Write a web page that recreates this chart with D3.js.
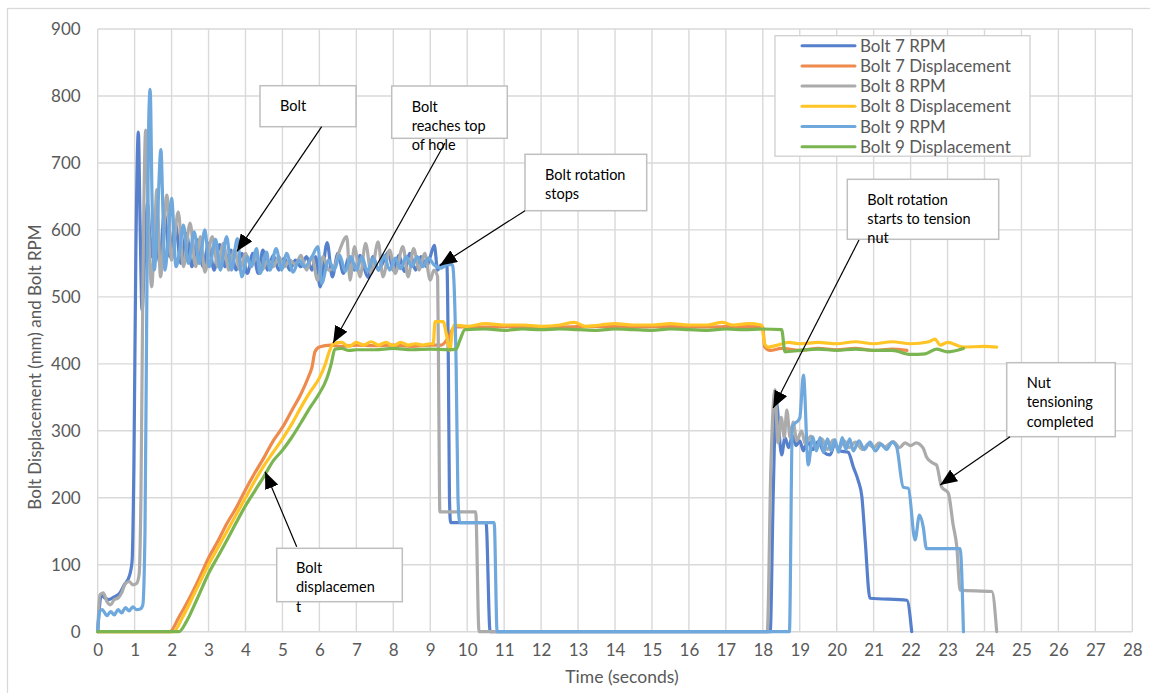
<!DOCTYPE html>
<html>
<head>
<meta charset="utf-8">
<script src="https://cdn.jsdelivr.net/npm/d3@7"></script>
<style>
  body { margin: 0; background: #fff; }
  svg { display: block; font-family: Lato, "Open Sans", sans-serif; }
</style>
</head>
<body>
<svg id="chart" width="1150" height="693"></svg>
<script>
// --- data: [time (s), value] ---
var seriesNames = ["Bolt 7 RPM", "Bolt 7 Displacement", "Bolt 8 RPM",
                   "Bolt 8 Displacement", "Bolt 9 RPM", "Bolt 9 Displacement"];

var bolt7Rpm = [[0,0],[0.1,55],[0.2,50],[0.3,48],[0.45,52],[0.6,58],[0.72,70],[0.85,82],[0.93,105],[0.98,250],[1.03,550],[1.1,746],[1.15,600],[1.2,480],[1.27,560],[1.35,640],[1.45,560],[1.55,610],[1.68,550],[1.8,625],[1.95,560],[2.1,610],[2.25,550],[2.4,595],[2.55,545],[2.7,585],[2.85,545],[3.0,580],[3.15,540],[3.3,578],[3.45,545],[3.6,570],[3.75,540],[3.9,565],[4.05,535],[4.2,565],[4.35,535],[4.47,570],[4.6,540],[4.75,562],[4.9,540],[5.05,558],[5.2,540],[5.35,555],[5.5,545],[5.65,560],[5.8,540],[5.9,560],[6.02,515],[6.21,581],[6.35,530],[6.5,565],[6.65,535],[6.8,560],[6.95,540],[7.1,562],[7.2,545],[7.32,529],[7.45,560],[7.6,540],[7.75,555],[7.86,567],[8.0,540],[8.15,562],[8.3,538],[8.45,565],[8.6,540],[8.75,560],[8.9,545],[9.0,560],[9.11,577],[9.2,540],[9.3,548],[9.45,548],[9.49,400],[9.52,200],[9.55,163],[10.51,163],[10.62,0],[18.2,0],[18.28,200],[18.36,346],[18.51,264],[18.6,290],[18.7,275],[18.8,292],[18.9,278],[19.0,285],[19.1,270],[19.2,285],[19.35,272],[19.5,284],[19.65,268],[19.82,264],[19.95,280],[20.1,270],[20.31,268],[20.45,246],[20.58,226],[20.68,202],[20.77,137],[20.9,50],[21.9,47],[22.03,0]];

var bolt7Disp = [[0,0],[1.95,0],[2.2,22],[2.5,52],[2.75,80],[3.0,110],[3.25,135],[3.5,162],[3.75,185],[4.0,212],[4.25,237],[4.5,260],[4.75,285],[5.0,305],[5.25,330],[5.5,355],[5.7,380],[5.8,395],[5.88,418],[6.0,425],[6.3,428],[6.6,426],[7.0,428],[7.5,427],[8.0,428],[8.5,426],[9.0,428],[9.3,428],[9.5,440],[9.65,455],[10.5,455],[11.5,456],[12.5,455],[13.5,456],[14.5,455],[15.5,456],[16.5,455],[17.5,456],[18.0,455],[18.05,425],[18.2,420],[18.5,423],[19.0,420],[19.5,423],[20.0,421],[20.5,423],[21.0,420],[21.5,422],[21.9,420]];

var bolt8Rpm = [[0,0],[0.06,55],[0.15,58],[0.25,45],[0.35,40],[0.45,48],[0.55,50],[0.65,58],[0.75,72],[0.85,75],[0.95,70],[1.05,72],[1.12,85],[1.17,200],[1.22,500],[1.3,749],[1.38,600],[1.46,515],[1.53,580],[1.6,660],[1.7,530],[1.87,652],[2.0,555],[2.18,627],[2.32,545],[2.5,610],[2.65,545],[2.78,590],[2.9,537],[3.1,590],[3.25,545],[3.4,580],[3.55,540],[3.7,570],[3.85,540],[4.0,565],[4.15,545],[4.3,560],[4.45,540],[4.6,555],[4.75,545],[4.9,560],[5.05,545],[5.2,555],[5.35,548],[5.5,562],[5.65,540],[5.8,560],[5.95,525],[6.1,560],[6.25,540],[6.4,545],[6.55,570],[6.74,590],[6.83,525],[6.95,575],[7.1,530],[7.25,580],[7.4,535],[7.59,582],[7.72,530],[7.9,570],[8.05,535],[8.26,575],[8.4,530],[8.55,572],[8.7,540],[8.85,565],[9.0,525],[9.1,540],[9.2,530],[9.23,350],[9.26,179],[10.23,179],[10.32,0],[18.12,0],[18.22,250],[18.33,361],[18.41,282],[18.5,320],[18.58,290],[18.65,331],[18.74,290],[18.82,313],[18.92,285],[19.05,300],[19.15,280],[19.3,292],[19.45,275],[19.6,288],[19.75,272],[19.9,286],[20.05,272],[20.2,285],[20.35,275],[20.5,283],[20.7,272],[20.85,280],[21.0,275],[21.15,282],[21.3,276],[21.53,284],[21.7,275],[21.85,282],[22.0,278],[22.15,282],[22.34,274],[22.43,261],[22.6,252],[22.7,249],[22.84,216],[23.02,207],[23.15,160],[23.25,127],[23.34,62],[24.2,60],[24.33,0]];

var bolt8Disp = [[0,0],[2.05,0],[2.3,22],[2.6,55],[3.0,100],[3.25,125],[3.5,150],[3.75,175],[4.0,200],[4.25,225],[4.5,248],[4.75,268],[5.0,288],[5.25,310],[5.5,335],[5.75,358],[6.0,379],[6.15,398],[6.28,420],[6.38,430],[6.6,432],[6.8,426],[7.0,432],[7.2,428],[7.4,433],[7.6,428],[7.8,432],[8.0,427],[8.2,432],[8.4,428],[8.6,430],[8.8,428],[9.0,430],[9.08,430],[9.13,463],[9.35,463],[9.45,440],[9.53,420],[9.6,450],[9.65,458],[10.0,456],[10.5,460],[11.0,458],[11.5,458],[12.0,456],[12.5,458],[12.9,462],[13.2,456],[13.6,458],[14.0,460],[14.5,458],[15.0,458],[15.5,460],[16.0,458],[16.5,458],[16.9,462],[17.2,458],[17.6,460],[17.97,458],[18.05,430],[18.15,425],[18.4,428],[18.7,432],[19.0,430],[19.5,432],[20.0,430],[20.5,433],[21.0,430],[21.5,433],[22.0,430],[22.5,433],[22.66,437],[22.8,428],[23.0,432],[23.43,425],[24.0,426],[24.33,425]];

var bolt9Rpm = [[0,0],[0.05,30],[0.12,33],[0.25,24],[0.35,30],[0.45,25],[0.55,33],[0.65,28],[0.75,36],[0.85,31],[0.95,37],[1.05,33],[1.15,34],[1.22,40],[1.28,150],[1.33,500],[1.38,760],[1.42,810],[1.47,650],[1.53,540],[1.62,620],[1.71,720],[1.77,620],[1.82,540],[1.9,580],[2.0,647],[2.12,545],[2.22,570],[2.32,607],[2.45,550],[2.61,597],[2.75,550],[2.9,600],[3.02,545],[3.19,586],[3.32,540],[3.49,590],[3.62,540],[3.78,587],[3.9,530],[4.05,560],[4.15,545],[4.3,572],[4.39,535],[4.57,567],[4.66,540],[4.83,572],[4.98,540],[5.11,565],[5.29,537],[5.45,555],[5.6,545],[5.8,560],[5.96,575],[6.06,520],[6.25,555],[6.4,540],[6.55,562],[6.7,538],[6.85,560],[7.0,540],[7.15,560],[7.3,538],[7.45,558],[7.6,540],[7.75,562],[7.9,540],[8.05,558],[8.2,542],[8.35,560],[8.5,545],[8.65,560],[8.8,545],[8.95,558],[9.1,548],[9.31,543],[9.45,548],[9.6,548],[9.7,400],[9.75,200],[9.8,163],[10.73,163],[10.81,0],[18.72,0],[18.8,306],[19.0,319],[19.1,383],[19.23,249],[19.35,291],[19.45,270],[19.55,290],[19.65,268],[19.75,288],[19.85,270],[19.95,287],[20.05,268],[20.15,290],[20.25,272],[20.35,288],[20.45,270],[20.6,285],[20.75,272],[20.9,283],[21.05,270],[21.2,280],[21.35,272],[21.5,283],[21.62,276],[21.8,216],[21.94,214],[22.12,137],[22.24,174],[22.34,157],[22.43,124],[23.34,124],[23.43,0]];

var bolt9Disp = [[0,0],[2.2,0],[2.4,15],[2.7,50],[3.0,87],[3.25,112],[3.5,137],[3.75,163],[4.0,188],[4.25,210],[4.5,232],[4.75,255],[5.0,271],[5.25,290],[5.5,312],[5.75,335],[6.0,356],[6.2,378],[6.32,400],[6.42,422],[6.6,423],[6.8,420],[7.0,421],[7.5,421],[8.0,423],[8.5,421],[9.0,422],[9.5,421],[9.7,422],[9.8,435],[9.94,451],[10.5,452],[11.0,450],[11.5,452],[12.0,451],[12.5,452],[13.0,451],[13.5,450],[14.0,452],[14.5,451],[15.0,450],[15.5,452],[16.0,451],[16.5,450],[17.0,452],[17.5,451],[18.0,452],[18.51,451],[18.6,418],[19.0,420],[19.5,422],[20.0,420],[20.5,422],[21.0,420],[21.5,420],[22.0,414],[22.4,415],[22.7,422],[23.0,418],[23.43,423]];

var xTickLabels = [0,1,2,3,4,5,6,7,8,9,10,11,12,13,14,15,16,17,18,19,20,21,22,23,24,25,26,27,28];
var yTickLabels = [0,100,200,300,400,500,600,700,800,900];

var seriesColors = ["#5680cc", "#ee8a4c", "#ababab", "#ffc526", "#6ea8dc", "#7bb551"];
var allSeries = [bolt7Rpm, bolt7Disp, bolt8Rpm, bolt8Disp, bolt9Rpm, bolt9Disp];

// --- layout ---
var svg = d3.select("#chart");
var plotLeft = 97.7, plotRight = 1132.3, plotTop = 29, plotBottom = 631.7;

var x = d3.scaleLinear().domain([0, 28]).range([plotLeft, plotRight]);
var y = d3.scaleLinear().domain([0, 900]).range([plotBottom, plotTop]);

// chart area border (runs off the picture right and bottom)
svg.append("rect")
    .attr("x", 7.5).attr("y", 8.5)
    .attr("width", 1160).attr("height", 700)
    .attr("fill", "#fff")
    .attr("stroke", "#d9d9d9")
    .attr("stroke-width", 1.3);

// gridlines
svg.append("g")
  .selectAll("line")
  .data(xTickLabels)
  .enter().append("line")
    .attr("x1", d => x(d)).attr("x2", d => x(d))
    .attr("y1", plotTop).attr("y2", plotBottom)
    .attr("stroke", "#d9d9d9").attr("stroke-width", 1.4);

svg.append("g")
  .selectAll("line")
  .data(yTickLabels)
  .enter().append("line")
    .attr("x1", plotLeft).attr("x2", plotRight)
    .attr("y1", d => y(d)).attr("y2", d => y(d))
    .attr("stroke", "#d9d9d9").attr("stroke-width", 1.4);

// axis tick labels
var yAxis = svg.append("g")
    .attr("transform", "translate(" + (plotLeft - 6) + ",0)")
    .call(d3.axisLeft(y).tickValues(yTickLabels).tickSize(0).tickPadding(11));
var xAxis = svg.append("g")
    .attr("transform", "translate(0," + plotBottom + ")")
    .call(d3.axisBottom(x).tickValues(xTickLabels).tickSize(0).tickPadding(12));
[xAxis, yAxis].forEach(function(a) {
  a.select(".domain").remove();
  a.selectAll("text")
    .attr("fill", "#595959")
    .style("font-size", "17px")
    .style("font-family", "Lato, sans-serif");
});

// axis titles
svg.append("text")
    .attr("x", 622).attr("y", 683)
    .attr("text-anchor", "middle")
    .attr("fill", "#595959")
    .style("font-size", "17.5px")
    .text("Time (seconds)");

svg.append("text")
    .attr("transform", "translate(41,367) rotate(-90)")
    .attr("text-anchor", "middle")
    .attr("fill", "#595959")
    .style("font-size", "17px")
    .text("Bolt Displacement (mm) and Bolt RPM");

// lines
var line = d3.line()
    .x(d => x(d[0]))
    .y(d => y(d[1]))
    .curve(d3.curveMonotoneX);

svg.append("g")
  .selectAll("path")
  .data(allSeries)
  .enter().append("path")
    .attr("d", line)
    .attr("fill", "none")
    .attr("stroke", (d, i) => seriesColors[i])
    .attr("stroke-width", 3.2)
    .attr("stroke-linejoin", "round")
    .attr("stroke-linecap", "round");

// legend
var legend = svg.append("g");
legend.append("rect")
    .attr("x", 775).attr("y", 35.7)
    .attr("width", 255).attr("height", 120.5)
    .attr("fill", "#fff")
    .attr("stroke", "#cfcfcf").attr("stroke-width", 1.3);

var items = legend.selectAll(".item")
  .data(seriesNames)
  .enter().append("g")
    .attr("transform", (d, i) => "translate(0," + (45.7 + i * 20.2) + ")");
items.append("line")
    .attr("x1", 802).attr("x2", 855)
    .attr("stroke", (d, i) => seriesColors[i])
    .attr("stroke-width", 3)
    .attr("stroke-linecap", "round");
items.append("text")
    .attr("x", 860).attr("y", 6)
    .attr("fill", "#595959")
    .style("font-size", "17px")
    .text(d => d);

// annotations: box in pixels, arrow tip in data units
var notes = [
  {box: [260, 85.7, 96, 41], tx: 280, lines: ["Bolt"], base: [111], from: [321.7, 126.7], tip: [3.77, 568]},
  {box: [391.7, 86, 115.6, 52.3], tx: 411.7, lines: ["Bolt", "reaches top", "of hole"], base: [111.5, 130.8, 150.2], from: [445, 143], tip: [6.37, 431]},
  {box: [525, 154.3, 121.7, 56.4], tx: 545, lines: ["Bolt rotation", "stops"], base: [179.5, 199], from: [525, 210.7], tip: [9.26, 547]},
  {box: [847.3, 179.3, 151.4, 60], tx: 867.3, lines: ["Bolt rotation", "starts to tension", "nut"], base: [204.5, 223.8, 243], from: [859, 240], tip: [18.28, 334]},
  {box: [1006.7, 362.7, 108.6, 74], tx: 1026.7, lines: ["Nut", "tensioning", "completed"], base: [388, 407.4, 426.5], from: [1010, 436.7], tip: [22.8, 219]},
  {box: [276.7, 548.3, 125.6, 53.4], tx: 296, lines: ["Bolt", "displacemen", "t"], base: [573, 592.2, 611.5], from: [296.7, 546.7], tip: [4.53, 239]}
];

var defs = svg.append("defs");
defs.append("marker")
    .attr("id", "head")
    .attr("markerUnits", "userSpaceOnUse")
    .attr("markerWidth", 18).attr("markerHeight", 14)
    .attr("refX", 17).attr("refY", 7)
    .attr("orient", "auto")
  .append("path")
    .attr("d", "M0,0 L17,7 L0,14 Z")
    .attr("fill", "#000");

var noteG = svg.append("g").selectAll("g")
  .data(notes)
  .enter().append("g");

noteG.append("rect")
    .attr("x", d => d.box[0]).attr("y", d => d.box[1])
    .attr("width", d => d.box[2]).attr("height", d => d.box[3])
    .attr("fill", "#fff")
    .attr("stroke", "#bfbfbf").attr("stroke-width", 1.5);

noteG.each(function(d) {
  var g = d3.select(this);
  d.lines.forEach(function(t, i) {
    g.append("text")
        .attr("x", d.tx).attr("y", d.base[i])
        .attr("fill", "#000")
        .style("font-size", "14.5px")
        .text(t);
  });
});

noteG.append("line")
    .attr("x1", d => d.from[0]).attr("y1", d => d.from[1])
    .attr("x2", d => x(d.tip[0])).attr("y2", d => y(d.tip[1]))
    .attr("stroke", "#000").attr("stroke-width", 1.2)
    .attr("marker-end", "url(#head)");
</script>
</body>
</html>
